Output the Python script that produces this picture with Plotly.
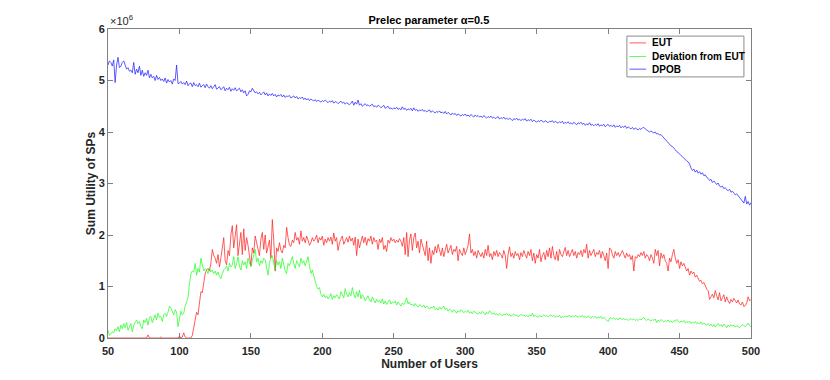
import plotly.graph_objects as go

# number of users, 50..500
users = list(range(50, 501))

# values, in units of 1e6
dpob = [
    5.30, 5.38, 5.35, 5.28, 5.40, 4.96, 5.30, 5.45, 5.25, 5.28,
    5.35, 5.38, 5.30, 5.22, 5.25, 5.18, 5.20, 5.15, 5.35, 5.12,
    5.22, 5.15, 5.28, 5.10, 5.20, 5.08, 5.15, 5.10, 5.20, 5.05,
    5.12, 5.05, 5.08, 5.00, 5.10, 5.02, 5.06, 5.00, 5.03, 4.98,
    5.05, 4.95, 5.02, 4.97, 5.00, 4.93, 5.03, 5.00, 5.30, 4.94,
    4.95, 4.98, 4.93, 4.96, 4.92, 4.99, 4.90, 4.94, 4.95, 4.88,
    4.96, 4.90, 4.92, 4.88, 4.95, 4.87, 4.90, 4.92, 4.86, 4.93,
    4.88, 4.85, 4.90, 4.84, 4.88, 4.92, 4.83, 4.86, 4.88, 4.82,
    4.86, 4.88, 4.80, 4.85, 4.82, 4.87, 4.79, 4.84, 4.81, 4.86,
    4.80, 4.83, 4.85, 4.78, 4.82, 4.76, 4.80, 4.70, 4.73, 4.80,
    4.78, 4.85, 4.80, 4.76, 4.78, 4.74, 4.77, 4.72, 4.75, 4.78,
    4.72, 4.76, 4.70, 4.74, 4.71, 4.75, 4.70, 4.73, 4.68, 4.72,
    4.70, 4.73, 4.68, 4.72, 4.67, 4.70, 4.69, 4.71, 4.66, 4.68,
    4.70, 4.66, 4.69, 4.64, 4.67, 4.65, 4.68, 4.63, 4.66, 4.62,
    4.65, 4.61, 4.64, 4.62, 4.60, 4.63, 4.59, 4.62, 4.60, 4.58,
    4.61, 4.59, 4.62, 4.60, 4.57, 4.60, 4.58, 4.61, 4.56, 4.59,
    4.58, 4.55, 4.57, 4.60, 4.56, 4.58, 4.54, 4.57, 4.55, 4.53,
    4.56, 4.60, 4.52, 4.58, 4.54, 4.62, 4.52, 4.55, 4.50, 4.53,
    4.55, 4.51, 4.53, 4.50, 4.52, 4.54, 4.49, 4.51, 4.48, 4.52,
    4.50, 4.47, 4.49, 4.52, 4.46, 4.48, 4.50, 4.45, 4.47, 4.44,
    4.47, 4.45, 4.48, 4.44, 4.46, 4.43, 4.49, 4.44, 4.46, 4.42,
    4.45, 4.43, 4.46, 4.41, 4.47, 4.42, 4.44, 4.40, 4.43, 4.41,
    4.44, 4.40, 4.42, 4.39, 4.41, 4.43, 4.38, 4.41, 4.39, 4.37,
    4.40, 4.38, 4.41, 4.37, 4.39, 4.36, 4.40, 4.35, 4.38, 4.36,
    4.33, 4.37, 4.34, 4.36, 4.32, 4.35, 4.33, 4.31, 4.34, 4.32,
    4.35, 4.31, 4.33, 4.30, 4.34, 4.31, 4.29, 4.33, 4.30, 4.32,
    4.29, 4.31, 4.28, 4.32, 4.30, 4.27, 4.30, 4.28, 4.31, 4.27,
    4.29, 4.26, 4.28, 4.30, 4.25, 4.28, 4.26, 4.29, 4.25, 4.27,
    4.24, 4.27, 4.25, 4.22, 4.26, 4.24, 4.27, 4.23, 4.25, 4.22,
    4.25, 4.23, 4.26, 4.21, 4.24, 4.22, 4.25, 4.20, 4.23, 4.21,
    4.19, 4.22, 4.20, 4.23, 4.21, 4.19, 4.22, 4.20, 4.18, 4.21,
    4.20, 4.22, 4.18, 4.21, 4.19, 4.17, 4.20, 4.18, 4.21, 4.16,
    4.19, 4.17, 4.20, 4.16, 4.18, 4.15, 4.19, 4.17, 4.14, 4.18,
    4.16, 4.19, 4.15, 4.17, 4.13, 4.16, 4.14, 4.18, 4.13, 4.15,
    4.12, 4.15, 4.13, 4.16, 4.11, 4.14, 4.12, 4.15, 4.10, 4.13,
    4.15, 4.11, 4.13, 4.10, 4.14, 4.09, 4.12, 4.10, 4.13, 4.08,
    4.11, 4.09, 4.12, 4.07, 4.10, 4.08, 4.06, 4.09, 4.05, 4.08,
    4.06, 4.04, 4.07, 4.05, 4.08, 4.09, 4.06, 4.04, 4.02, 4.00,
    4.02, 3.99, 3.98, 4.00, 3.96, 3.97, 3.94, 3.95, 3.92, 3.88,
    3.85, 3.82, 3.78, 3.76, 3.73, 3.72, 3.68, 3.66, 3.62, 3.60,
    3.57, 3.55, 3.52, 3.50, 3.47, 3.44, 3.42, 3.38, 3.30, 3.25,
    3.28, 3.22, 3.26, 3.20, 3.23, 3.18, 3.21, 3.15, 3.17, 3.12,
    3.10, 3.06, 3.08, 3.02, 3.05, 3.00, 2.98, 3.01, 2.95, 2.93,
    2.95, 2.90, 2.92, 2.88, 2.86, 2.89, 2.83, 2.85, 2.80, 2.78,
    2.80, 2.76, 2.73, 2.70, 2.66, 2.62, 2.75, 2.60, 2.65, 2.58,
    2.63,
]

eut = [
    0, 0, 0, 0, 0, 0, 0, 0, 0, 0,
    0, 0, 0, 0, 0, 0, 0, 0, 0, 0,
    0, 0, 0, 0, 0, 0, 0, 0, 0.06, 0,
    0, 0, 0, 0, 0, 0, 0, 0.02, 0, 0,
    0, 0, 0, 0, 0, 0, 0, 0, 0, 0,
    0.04, 0, 0.02, 0.10, 0.02, 0, 0, 0, 0, 0.05,
    0.18, 0.35, 0.50, 0.45, 0.75, 0.90, 0.88, 1.10, 1.25, 1.32,
    1.35, 1.30, 1.45, 1.72, 1.60, 1.55, 1.45, 1.62, 1.38, 1.55,
    1.80, 1.95, 1.50, 1.42, 1.70, 1.60, 2.00, 2.18, 1.75, 1.95,
    2.20, 1.60, 1.85, 2.05, 1.62, 2.12, 1.70, 1.95, 1.80, 1.55,
    1.40, 1.75, 1.65, 1.98, 1.85, 1.70, 1.60, 1.92, 2.05, 1.72,
    2.00, 1.65, 1.80, 1.90, 1.55, 2.30, 1.90, 1.30, 1.75, 1.68,
    1.85, 1.70, 1.65, 1.80, 1.75, 2.15, 1.95, 1.80, 1.78, 1.90,
    1.85, 2.05, 1.90, 1.95, 1.82, 2.08, 1.88, 1.95, 1.85, 1.98,
    1.90, 1.80, 1.85, 1.95, 1.88, 1.92, 2.00, 1.85, 1.95, 1.90,
    1.98, 1.80, 1.92, 1.85, 1.95, 1.88, 1.96, 1.82, 2.04, 1.88,
    1.95, 1.70, 1.85, 1.93, 1.98, 1.82, 1.90, 1.95, 1.86, 1.98,
    1.88, 1.94, 1.80, 1.96, 1.60, 1.92, 1.75, 1.90, 1.98, 1.85,
    1.96, 1.80, 1.93, 1.88, 1.98, 1.82, 1.95, 1.87, 1.90, 1.72,
    1.92, 1.85, 1.95, 1.72, 1.80, 1.68, 1.90, 1.84, 1.95, 1.88,
    1.92, 1.85, 1.90, 1.86, 1.93, 1.88, 1.78, 1.95, 1.62, 2.05,
    1.58, 1.90, 2.02, 1.70, 1.95, 2.04, 1.75, 1.88, 1.65, 1.92,
    1.80, 1.72, 1.60, 1.88, 1.50, 1.75, 1.45, 1.70, 1.62, 1.78,
    1.65, 1.82, 1.72, 1.60, 1.75, 1.58, 1.70, 1.82, 1.65, 1.75,
    1.80, 1.62, 1.72, 1.68, 1.78, 1.50, 1.72, 1.65, 1.60, 1.75,
    1.62, 1.70, 1.80, 2.02, 1.65, 1.72, 1.60, 1.68, 1.55, 1.70,
    1.62, 1.58, 1.66, 1.55, 1.72, 1.60, 1.80, 1.58, 1.64, 1.52,
    1.68, 1.60, 1.70, 1.58, 1.66, 1.62, 1.55, 1.70, 1.60, 1.35,
    1.62, 1.77, 1.58, 1.65, 1.55, 1.68, 1.60, 1.64, 1.52, 1.66,
    1.58, 1.70, 1.62, 1.55, 1.68, 1.60, 1.72, 1.50, 1.65, 1.45,
    1.62, 1.55, 1.72, 1.48, 1.60, 1.66, 1.52, 1.70, 1.58, 1.75,
    1.55, 1.78, 1.60, 1.52, 1.68, 1.50, 1.72, 1.62, 1.58, 1.66,
    1.76, 1.60, 1.70, 1.58, 1.65, 1.72, 1.60, 1.68, 1.55, 1.66,
    1.62, 1.70, 1.58, 1.72, 1.65, 1.82, 1.55, 1.70, 1.60, 1.66,
    1.72, 1.58, 1.66, 1.62, 1.70, 1.55, 1.68, 1.60, 1.50, 1.65,
    1.35, 1.75, 1.72, 1.62, 1.55, 1.68, 1.60, 1.66, 1.58, 1.64,
    1.70, 1.62, 1.55, 1.65, 1.58, 1.62, 1.52, 1.60, 1.30, 1.58,
    1.55, 1.62, 1.58, 1.66, 1.60, 1.68, 1.55, 1.62, 1.58, 1.50,
    1.62, 1.55, 1.45, 1.72, 1.60, 1.70, 1.40, 1.65, 1.55, 1.62,
    1.50, 1.45, 1.30, 1.55, 1.48, 1.62, 1.72, 1.55, 1.45, 1.52,
    1.35, 1.48, 1.40, 1.45, 1.38, 1.30, 1.35, 1.22, 1.30, 1.25,
    1.28, 1.18, 1.22, 1.15, 1.10, 1.12, 1.05, 1.08, 1.00, 0.95,
    0.92, 0.75, 0.80, 0.85, 0.78, 0.92, 0.82, 0.74, 0.88, 0.72,
    0.78, 0.84, 0.70, 0.80, 0.72, 0.67, 0.75, 0.70, 0.77, 0.72,
    0.68, 0.74, 0.66, 0.64, 0.70, 0.61, 0.63, 0.68, 0.80, 0.72,
    0.75,
]

deviation = [
    0.15, 0.05, 0.08, 0.12, 0.10, 0.18, 0.14, 0.22, 0.12, 0.25,
    0.18, 0.28, 0.20, 0.30, 0.15, 0.22, 0.28, 0.12, 0.25, 0.30,
    0.35, 0.28, 0.32, 0.22, 0.18, 0.35, 0.30, 0.38, 0.25, 0.40,
    0.42, 0.30, 0.38, 0.45, 0.35, 0.48, 0.40, 0.42, 0.32, 0.45,
    0.48, 0.42, 0.50, 0.62, 0.58, 0.52, 0.45, 0.55, 0.50, 0.22,
    0.40, 0.52, 0.45, 0.48, 0.62, 0.70, 0.78, 1.05, 1.25, 1.30,
    1.28, 1.45, 1.22, 1.35, 1.28, 1.55, 1.40, 1.30, 1.35, 1.32,
    1.25, 1.35, 1.28, 1.32, 1.25, 1.30, 1.22, 1.28, 1.20, 1.15,
    1.25, 1.32, 1.35, 1.40, 1.30, 1.45, 1.38, 1.42, 1.58, 1.35,
    1.45, 1.58, 1.40, 1.32, 1.50, 1.42, 1.48, 1.35, 1.55, 1.45,
    1.38, 1.50, 1.62, 1.72, 1.48, 1.55, 1.40, 1.50, 1.45, 1.55,
    1.52, 1.40, 1.22, 1.45, 1.58, 1.60, 1.45, 1.32, 1.50, 1.42,
    1.48, 1.35, 1.55, 1.42, 1.30, 1.25, 1.45, 1.40, 1.50, 1.58,
    1.45, 1.35, 1.50, 1.42, 1.38, 1.55, 1.45, 1.50, 1.40, 1.48,
    1.58, 1.40, 1.25, 1.32, 1.20, 1.08, 1.00, 0.95, 0.98, 0.85,
    0.80, 0.85, 0.78, 0.82, 0.76, 0.80, 0.86, 0.75, 0.82, 0.78,
    0.84, 0.80, 0.76, 0.90, 0.82, 0.78, 0.96, 0.85, 0.80, 0.88,
    0.82, 0.98, 0.85, 0.78, 0.90, 0.80, 0.93, 0.76, 0.84, 0.80,
    0.72, 0.78, 0.82, 0.74, 0.70, 0.80, 0.72, 0.68, 0.75, 0.70,
    0.73, 0.68, 0.76, 0.66, 0.72, 0.65, 0.70, 0.74, 0.66, 0.70,
    0.68, 0.72, 0.64, 0.70, 0.66, 0.62, 0.68, 0.65, 0.70, 0.78,
    0.66, 0.70, 0.64, 0.66, 0.62, 0.67, 0.63, 0.60, 0.65, 0.62,
    0.60, 0.64, 0.58, 0.62, 0.60, 0.56, 0.60, 0.58, 0.62, 0.55,
    0.58, 0.54, 0.60, 0.56, 0.58, 0.62, 0.55, 0.58, 0.52, 0.56,
    0.54, 0.50, 0.55, 0.52, 0.48, 0.53, 0.50, 0.55, 0.52, 0.49,
    0.52, 0.50, 0.54, 0.48, 0.51, 0.47, 0.52, 0.50, 0.48, 0.46,
    0.50, 0.47, 0.52, 0.48, 0.45, 0.50, 0.47, 0.53, 0.48, 0.46,
    0.49, 0.45, 0.47, 0.44, 0.48, 0.46, 0.43, 0.47, 0.45, 0.48,
    0.44, 0.46, 0.42, 0.45, 0.47, 0.43, 0.45, 0.41, 0.44, 0.46,
    0.43, 0.45, 0.42, 0.44, 0.41, 0.45, 0.43, 0.48, 0.42, 0.44,
    0.42, 0.40, 0.44, 0.41, 0.43, 0.45, 0.42, 0.44, 0.41, 0.43,
    0.45, 0.42, 0.44, 0.40, 0.43, 0.41, 0.44, 0.39, 0.42, 0.40,
    0.43, 0.41, 0.42, 0.44, 0.40, 0.43, 0.41, 0.44, 0.42, 0.40,
    0.43, 0.41, 0.44, 0.40, 0.42, 0.39, 0.43, 0.41, 0.38, 0.42,
    0.40, 0.42, 0.38, 0.41, 0.39, 0.42, 0.37, 0.40, 0.38, 0.35,
    0.32, 0.38, 0.40, 0.37, 0.39, 0.36, 0.38, 0.35, 0.39, 0.37,
    0.36, 0.38, 0.35, 0.37, 0.34, 0.36, 0.38, 0.35, 0.37, 0.34,
    0.36, 0.34, 0.37, 0.35, 0.38, 0.40, 0.36, 0.34, 0.37, 0.35,
    0.33, 0.36, 0.34, 0.37, 0.30, 0.35, 0.32, 0.36, 0.34, 0.31,
    0.34, 0.32, 0.35, 0.31, 0.33, 0.30, 0.34, 0.32, 0.36, 0.33,
    0.30, 0.33, 0.31, 0.34, 0.29, 0.32, 0.30, 0.33, 0.28, 0.31,
    0.29, 0.32, 0.28, 0.30, 0.27, 0.31, 0.26, 0.29, 0.27, 0.25,
    0.28, 0.24, 0.27, 0.22, 0.26, 0.21, 0.25, 0.28, 0.23, 0.26,
    0.22, 0.27, 0.24, 0.20, 0.25, 0.22, 0.26, 0.23, 0.25, 0.21,
    0.24, 0.22, 0.20, 0.23, 0.26, 0.24, 0.22, 0.25, 0.29, 0.24,
    0.22,
]

x_ticks = [50, 100, 150, 200, 250, 300, 350, 400, 450, 500]
y_ticks = [0, 1, 2, 3, 4, 5, 6]
series = [
    ("EUT", eut, "#ff0000"),
    ("Deviation from EUT", deviation, "#00ff00"),
    ("DPOB", dpob, "#0000ff"),
]

scale = 1e6
font = "Liberation Sans, Arial, sans-serif"
axis_col = "#808080"

fig = go.Figure()
for name, vals, col in series:
    fig.add_trace(go.Scatter(
        x=users, y=[v * scale for v in vals], mode="lines", name=name,
        line=dict(color=col, width=0.75), opacity=0.85, showlegend=False,
    ))

axis_common = dict(
    showline=True, linecolor=axis_col, linewidth=1, mirror="ticks",
    ticks="inside", ticklen=5, tickcolor=axis_col, showgrid=False,
    zeroline=False,
    tickfont=dict(family=font, size=11, color="#262626", weight="bold"),
)

# page body has an 8px margin, so the figure is a bit smaller than the window
fig.update_layout(
    width=822, height=372,
    margin=dict(l=100, r=79, t=21, b=42),
    paper_bgcolor="white", plot_bgcolor="white",
    title=dict(
        text="Prelec parameter α=0.5", x=0.512, xanchor="center",
        y=0.968, yanchor="middle",
        font=dict(family=font, size=11, color="#000000", weight="bold"),
    ),
    xaxis=dict(
        range=[50, 500], tickvals=x_ticks, ticklabelstandoff=3,
        title=dict(text="Number of Users", standoff=2,
                   font=dict(family=font, size=12, color="#262626", weight="bold")),
        **axis_common,
    ),
    yaxis=dict(
        range=[0, 6 * scale], tickvals=[t * scale for t in y_ticks],
        ticktext=[str(t) for t in y_ticks],
        title=dict(text="Sum Utility of SPs", standoff=0,
                   font=dict(family=font, size=12, color="#262626", weight="bold")),
        **axis_common,
    ),
    showlegend=False,
)

fig.add_annotation(
    text="×10<sup>6</sup>", xref="paper", yref="paper", x=0.0, y=1.0,
    xanchor="left", yanchor="bottom", showarrow=False,
    font=dict(family=font, size=11, color="#262626"),
)

# MATLAB-style legend box in the top right corner
fig.add_shape(type="rect", xref="paper", yref="paper",
              x0=0.807, x1=0.989, y0=0.845, y1=0.977,
              line=dict(color="#8c8c8c", width=1), fillcolor="white",
              layer="above")
leg_y = [0.955, 0.911, 0.870]
for (name, _, col), yy in zip(series, leg_y):
    fig.add_shape(type="line", xref="paper", yref="paper",
                  x0=0.811, x1=0.837, y0=yy, y1=yy,
                  line=dict(color=col, width=0.75), opacity=0.85,
                  layer="above")
    fig.add_annotation(text=name, xref="paper", yref="paper", x=0.843, y=yy,
                       xanchor="left", yanchor="middle", showarrow=False,
                       font=dict(family=font, size=10, color="#000000",
                                 weight="bold"))

fig.write_html("out.html")
